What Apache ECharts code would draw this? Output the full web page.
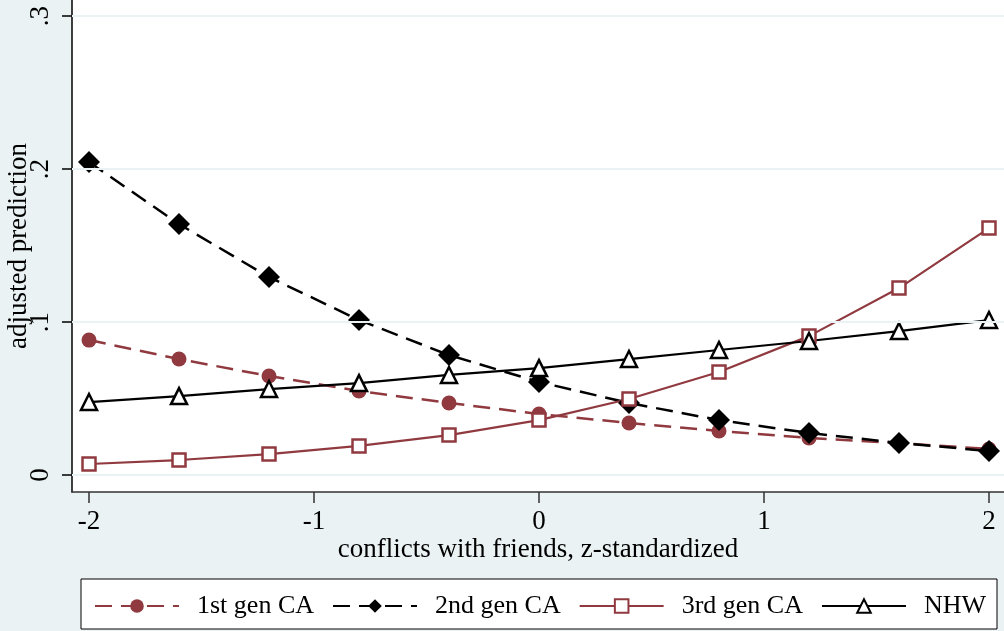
<!DOCTYPE html>
<html>
<head>
<meta charset="utf-8">
<script src="https://cdn.jsdelivr.net/npm/echarts@6/dist/echarts.min.js"></script>
<style>
html,body{margin:0;padding:0;background:#EAF2F3;}
#chart{width:1004px;height:631px;}
</style>
</head>
<body>
<div id="chart"></div>
<script>
var xValues = [-2, -1.6, -1.2, -0.8, -0.4, 0, 0.4, 0.8, 1.2, 1.6, 2];
var gen1 = [0.0882, 0.0758, 0.0647, 0.0549, 0.0471, 0.0399, 0.0340, 0.0288, 0.0242, 0.0209, 0.0170];
var gen2 = [0.2046, 0.1640, 0.1294, 0.1013, 0.0784, 0.0608, 0.0471, 0.0359, 0.0275, 0.0209, 0.0157];
var gen3 = [0.0072, 0.0098, 0.0137, 0.0190, 0.0261, 0.0359, 0.0497, 0.0673, 0.0908, 0.1222, 0.1614];
var nhw  = [0.0477, 0.0516, 0.0562, 0.0601, 0.0654, 0.0699, 0.0758, 0.0817, 0.0876, 0.0941, 0.1013];
var xTicks = [-2, -1, 0, 1, 2];
var yTicks = [0, 0.1, 0.2, 0.3];
var yTickLabels = ['0', '.1', '.2', '.3'];
var seriesNames = ['1st gen CA', '2nd gen CA', '3rd gen CA', 'NHW'];

var maroon = '#903A40';
var font = "'Liberation Serif', 'Times New Roman', serif";
function pairs(ys){ return xValues.map(function(x,i){ return [x, ys[i]]; }); }

var chart = echarts.init(document.getElementById('chart'), null, {renderer:'canvas'});
chart.setOption({
  backgroundColor: '#EAF2F3',
  animation: false,
  textStyle: {fontFamily: font},
  graphic: [{
    type: 'rect', z: 0,
    shape: {x: 81, y: 579, width: 916, height: 50},
    style: {fill: '#fff', stroke: '#000', lineWidth: 1}
  }],
  grid: {left: 72, right: 0, top: 0, bottom: 139, show: true, backgroundColor: '#fff', borderWidth: 0,
    containLabel: false, outerBoundsMode: 'none'},
  legend: {
    top: 588, left: 89,
    itemWidth: 84, itemHeight: 17, itemGap: 18,
    textStyle: {fontFamily: font, fontSize: 26, color: '#000', padding: [0,0,0,13]},
    data: seriesNames,
    z: 5
  },
  xAxis: {
    type: 'value', min: -2.0756, max: 2.0667,
    name: 'conflicts with friends, z-standardized', nameLocation: 'middle', nameGap: 44,
    nameMoveOverlap: false,
    nameTextStyle: {fontFamily: font, fontSize: 27, color: '#000'},
    axisLine: {show: true, onZero: false, lineStyle: {color: '#333', width: 1.5}},
    axisTick: {show: true, length: 11, customValues: xTicks, lineStyle: {color: '#333', width: 1.5}},
    axisLabel: {customValues: xTicks, fontFamily: font, fontSize: 27, color: '#000', margin: 16,
      formatter: function(v){ return String(v); }},
    splitLine: {show: false}
  },
  yAxis: {
    type: 'value', min: -0.0111, max: 0.3105,
    name: 'adjusted prediction', nameLocation: 'middle', nameGap: 40,
    nameMoveOverlap: false,
    nameTextStyle: {fontFamily: font, fontSize: 27, color: '#000'},
    axisLine: {show: true, onZero: false, lineStyle: {color: '#000', width: 1.5}},
    axisTick: {show: true, length: 10, customValues: yTicks, lineStyle: {color: '#000', width: 1.5}},
    axisLabel: {customValues: yTicks, rotate: 90, fontFamily: font, fontSize: 27, color: '#000', margin: 18,
      formatter: function(v){ var i = yTicks.indexOf(v); return i >= 0 ? yTickLabels[i] : ''; }},
    splitLine: {show: false}
  },
  series: [
    {
      name: seriesNames[0], type: 'line', data: pairs(gen1), z: 3,
      symbol: 'circle', symbolSize: 15, showAllSymbol: true,
      lineStyle: {color: maroon, width: 2.5, type: [17, 9]},
      itemStyle: {color: maroon, borderColor: maroon, borderWidth: 0},
      markLine: {
        silent: true, symbol: 'none', label: {show: false}, animation: false,
        lineStyle: {color: '#EAF2F3', width: 2, type: 'solid'},
        data: yTicks.map(function(v){ return {yAxis: v}; })
      }
    },
    {
      name: seriesNames[1], type: 'line', data: pairs(gen2), z: 3,
      symbol: 'diamond', symbolSize: 22, showAllSymbol: true,
      lineStyle: {color: '#000', width: 2.5, type: [17, 9]},
      itemStyle: {color: '#000', borderWidth: 0}
    },
    {
      name: seriesNames[2], type: 'line', data: pairs(gen3), z: 3,
      symbol: 'rect', symbolSize: 13, showAllSymbol: true,
      lineStyle: {color: maroon, width: 2.2, type: 'solid'},
      itemStyle: {color: '#fff', borderColor: maroon, borderWidth: 2.5}
    },
    {
      name: seriesNames[3], type: 'line', data: pairs(nhw), z: 3,
      symbol: 'triangle', symbolSize: 16, showAllSymbol: true,
      lineStyle: {color: '#000', width: 2.2, type: 'solid'},
      itemStyle: {color: '#fff', borderColor: '#000', borderWidth: 2.5}
    }
  ]
});
</script>
</body>
</html>
